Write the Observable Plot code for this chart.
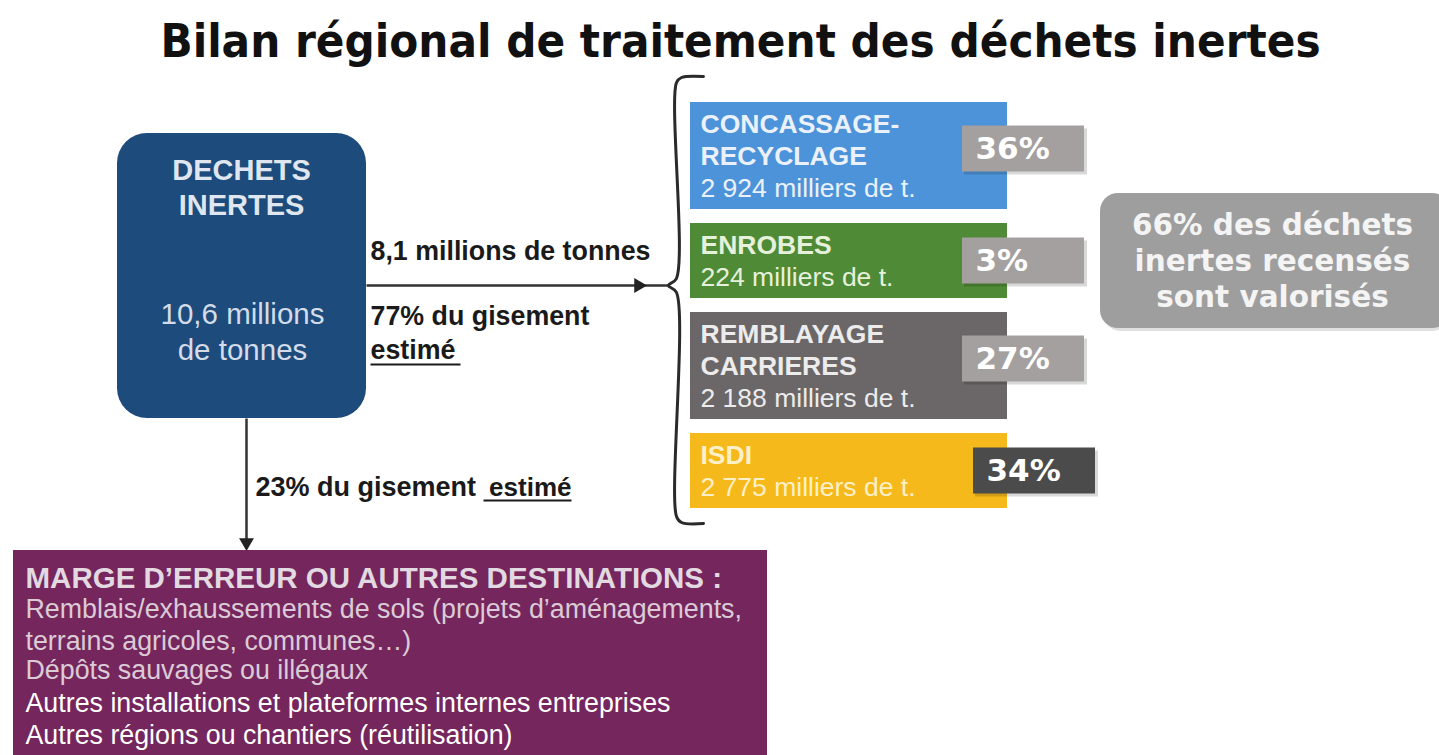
<!DOCTYPE html>
<html lang="fr">
<head>
<meta charset="utf-8">
<script src="https://cdn.jsdelivr.net/npm/d3@7"></script>
<script src="https://cdn.jsdelivr.net/npm/@observablehq/plot@0.6"></script>
<style>
  html, body { margin: 0; padding: 0; background: #ffffff; }
  #chart svg { display: block; }
</style>
</head>
<body>
<div id="chart"></div>
<script>
// ---------- data ----------
const title = "Bilan régional de traitement des déchets inertes";
const sourceLabel = ["DECHETS", "INERTES"];
const totalMillions = 10.6;            // millions de tonnes
const recordedMillions = 8.1;          // millions de tonnes recensées
const recordedShare = 77;              // % du gisement estimé
const otherShare = 23;                 // % du gisement estimé
const categories = ["CONCASSAGE-\nRECYCLAGE", "ENROBES", "REMBLAYAGE\nCARRIERES", "ISDI"];
const tonnages = [2924, 224, 2188, 2775];   // milliers de tonnes
const shares = [36, 3, 27, 34];            // %
const valorisedShare = 66;                 // %
const otherTitle = "MARGE D\u2019ERREUR OU AUTRES DESTINATIONS :";
const otherDestinations = [
  "Remblais/exhaussements de sols (projets d\u2019aménagements,",
  "terrains agricoles, communes\u2026)",
  "Dépôts sauvages ou illégaux",
  "Autres installations et plateformes internes entreprises",
  "Autres régions ou chantiers (réutilisation)"
];

// ---------- styling ----------
const boxColors = ["#4d93d9", "#4f8a36", "#6b6667", "#f6b91b"];
const boxTextColors = ["#eaf1fb", "#e6f1dc", "#ececec", "#fdf0c8"];
const SANS = "Liberation Sans, Arial, sans-serif";
const WIDE = "DejaVu Sans, Verdana, sans-serif";
const COND = "DejaVu Sans Condensed, DejaVu Sans, sans-serif";

const fr = d3.formatLocale({decimal: ",", thousands: " ", grouping: [3], currency: ["", " €"]});
const fmtT = fr.format(",d");
const fmtM = fr.format(",.1f");

// ---------- layout of the destination boxes ----------
const boxX1 = 690, boxX2 = 1007, top0 = 102, lineStep = 32, gap = 14;
let cursor = top0;
const rows = categories.map((c, i) => {
  const nameLines = c.split("\n");
  const nLines = nameLines.length + 1;
  const h = 43 + lineStep * (nLines - 1);
  const row = {i, top: cursor, bottom: cursor + h, nameLines, nLines,
    color: boxColors[i], tcolor: boxTextColors[i],
    tonnage: fmtT(tonnages[i]) + " milliers de t.", share: shares[i] + "%"};
  cursor += h + gap;
  return row;
});
const pctBoxes = rows.map(r => {
  const last = r.i === rows.length - 1;
  const cy = (r.top + r.bottom) / 2 - (r.nLines === 3 ? 7 : 0);
  const x1 = last ? 973 : 962;
  return {x1, x2: x1 + 122, y1: cy - 23, y2: cy + 23, cy, label: r.share,
          fill: last ? "#4b4b4b" : "#a3a09f"};
});
const nameLines = rows.flatMap(r =>
  r.nameLines.map((t, k) => ({t, y: r.top + 22 + k * lineStep, fill: r.tcolor})));
const tonnageLines = rows.map(r =>
  ({t: r.tonnage, y: r.top + 22 + r.nameLines.length * lineStep, fill: r.tcolor}));

const braceTop = 77, braceBottom = 522, braceX = 676, braceMid = 285;
const brace = [
  {x: 703, y: braceTop - 1}, {x: 681, y: braceTop}, {x: braceX, y: braceTop + 5},
  {x: braceX, y: braceMid - 7}, {x: braceX - 8, y: braceMid}, {x: braceX, y: braceMid + 7},
  {x: braceX, y: braceBottom - 6}, {x: 681, y: braceBottom}, {x: 703, y: braceBottom + 1}
];

const sideLines = [`${valorisedShare}% des déchets`, "inertes recensés", "sont valorisés"];
const otherLines = otherDestinations.map((t, k) => ({
  t, y: 609 + k * 32 - (k >= 2 ? 3 : 0) + (k >= 3 ? 1 : 0), fill: k < 3 ? "#dccbd6" : "#ffffff", k
}));

const bold = {fontWeight: "bold", fontFamily: SANS, fill: "#1a1a1a", textAnchor: "start"};

const chart = Plot.plot({
  width: 1439, height: 755, margin: 0,
  x: {domain: [0, 1439], range: [0, 1439], axis: null},
  y: {domain: [0, 755], range: [0, 755], axis: null},
  style: {background: "#ffffff"},
  marks: [
    // title
    Plot.text([title], {x: 740, y: 41, text: d => d, fontSize: 47, fontWeight: "bold",
      fontFamily: COND, fill: "#111111"}),

    // source box
    Plot.rect([0], {x1: 117, x2: 366, y1: 133, y2: 418, rx: 30, fill: "#1d4b7b"}),
    Plot.text(sourceLabel, {x: 241, y: (d, i) => 170 + i * 35, text: d => d, fontSize: 29,
      fontWeight: "bold", fontFamily: SANS, fill: "#dfe6f0"}),
    Plot.text([`${fmtM(totalMillions)} millions`, "de tonnes"], {x: 242, y: (d, i) => 314 + i * 36,
      text: d => d, fontSize: 29.5, fontFamily: SANS, fill: "#d3dce8"}),

    // horizontal arrow + brace
    Plot.link([0], {x1: 366, y1: braceMid, x2: braceX - 8, y2: braceMid, stroke: "#333", strokeWidth: 2.5}),
    Plot.dot([0], {x: 638, y: braceMid, symbol: "triangle", rotate: 90, r: 5.5, fill: "#222", stroke: "none"}),
    Plot.line(brace, {x: "x", y: "y", stroke: "#2a2a2a", strokeWidth: 3, curve: "catmull-rom"}),
    Plot.text([`${fmtM(recordedMillions)} millions de tonnes`], {x: 370, y: 251, text: d => d,
      fontSize: 26.8, ...bold}),
    Plot.text([`${recordedShare}% du gisement`, "estimé"], {x: 370, y: (d, i) => 316 + i * 34,
      text: d => d, fontSize: 26.8, ...bold}),
    Plot.link([0], {x1: 370, x2: 460, y1: 364, y2: 364, stroke: "#1a1a1a", strokeWidth: 2}),

    // vertical arrow
    Plot.link([0], {x1: 246, y1: 418, x2: 246, y2: 541, stroke: "#333", strokeWidth: 2.5}),
    Plot.dot([0], {x: 246, y: 542, symbol: "triangle", rotate: 180, r: 5.5, fill: "#222", stroke: "none"}),
    Plot.text([`${otherShare}% du gisement`], {x: 255, y: 487, text: d => d, fontSize: 27, ...bold}),
    Plot.text(["estimé"], {x: 571, y: 487, text: d => d, fontSize: 26, ...bold, textAnchor: "end"}),
    Plot.link([0], {x1: 483, x2: 571, y1: 500, y2: 500, stroke: "#1a1a1a", strokeWidth: 2}),

    // destination boxes
    Plot.rect(rows, {x1: boxX1, x2: boxX2, y1: "top", y2: "bottom", fill: "color"}),
    Plot.text(nameLines, {x: 700, y: "y", text: "t", textAnchor: "start", fill: "fill",
      fontSize: 26.5, fontWeight: "bold", fontFamily: SANS}),
    Plot.text(tonnageLines, {x: 700, y: "y", text: "t", textAnchor: "start", fill: "fill",
      fontSize: 26.5, fontFamily: SANS}),

    // percentage tags
    Plot.rect(pctBoxes, {x1: d => d.x1 + 2, x2: d => d.x2 + 3, y1: d => d.y1 + 3, y2: d => d.y2 + 3,
      fill: "#000", fillOpacity: 0.15}),
    Plot.rect(pctBoxes, {x1: "x1", x2: "x2", y1: "y1", y2: "y2", fill: "fill"}),
    Plot.text(pctBoxes, {x: d => d.x1 + 13, y: "cy", text: "label", textAnchor: "start",
      fontSize: 31, fontWeight: "bold", fontFamily: WIDE, fill: "#ffffff"}),

    // side summary box
    Plot.rect([0], {x1: 1103, x2: 1450, y1: 196, y2: 331, rx: 18, fill: "#000", fillOpacity: 0.12}),
    Plot.rect([0], {x1: 1100, x2: 1450, y1: 193, y2: 328, rx: 18, fill: "#9f9e9e"}),
    Plot.text(sideLines, {x: 1272, y: (d, i) => 225 + i * 36, text: d => d, fontSize: 29.5,
      fontWeight: "bold", fontFamily: WIDE, fill: "#f4f4f4"}),

    // other destinations box
    Plot.rect([0], {x1: 13, x2: 767, y1: 550, y2: 755, fill: "#74265d"}),
    Plot.text([otherTitle], {x: 25, y: 578, text: d => d, textAnchor: "start", fontSize: 29.5,
      fontWeight: "bold", fontFamily: SANS, fill: "#e2dae0"}),
    Plot.text(otherLines.filter(d => d.k < 3), {x: 25, y: "y", text: "t", textAnchor: "start",
      fontSize: 26.8, fontFamily: SANS, fill: "fill"}),
    Plot.text(otherLines.filter(d => d.k >= 3), {x: 25, y: "y", text: "t", textAnchor: "start",
      fontSize: 26.8, fontFamily: SANS, fill: "fill"})
  ]
});
document.getElementById("chart").appendChild(chart);
</script>
</body>
</html>
